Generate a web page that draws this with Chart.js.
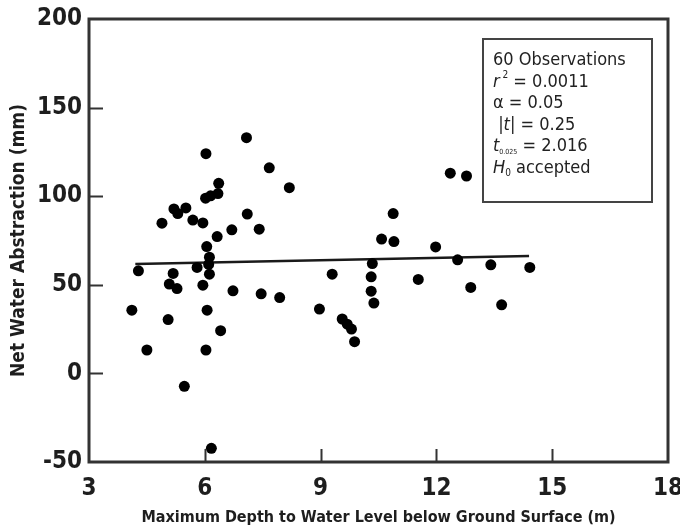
<!DOCTYPE html>
<html>
<head>
<meta charset="utf-8">
<script src="https://cdn.jsdelivr.net/npm/chart.js@4.4.1/dist/chart.umd.min.js"></script>
<style>
  html, body { margin: 0; padding: 0; background: #fff; }
  #wrap { width: 680px; height: 531px; }
</style>
</head>
<body>
<div id="wrap"><canvas id="c" width="680" height="531"></canvas></div>
<script>
// ---- data ----
const xTickValues = [3, 6, 9, 12, 15, 18];
const yTickValues = [-50, 0, 50, 100, 150, 200];
const depth = [
  7.08, 6.03, 7.67, 8.19, 6.36, 6.34, 6.15, 6.02, 5.20, 5.51,
  5.30, 4.89, 5.69, 5.95, 7.10, 6.32, 6.70, 7.41, 6.05, 6.12,
  4.28, 5.18, 5.80, 6.10, 6.12, 5.08, 5.28, 5.95, 6.73, 7.46,
  7.94, 4.11, 6.06, 5.05, 6.41, 4.50, 6.03, 5.47, 6.17, 12.36,
  12.78, 10.88, 10.58, 10.90, 11.98, 12.55, 10.34, 9.30, 10.31, 11.53,
  12.89, 10.31, 10.38, 8.97, 9.56, 9.69, 9.80, 9.88, 13.41, 14.42,
  13.69
];
const abstraction = [
  133.0, 124.0, 116.0, 104.8, 107.3, 101.5, 100.2, 98.9, 92.8, 93.4,
  90.2, 84.8, 86.5, 84.9, 89.9, 77.2, 81.0, 81.4, 71.6, 65.6,
  57.9, 56.4, 59.8, 61.5, 56.0, 50.4, 47.9, 49.8, 46.6, 44.9,
  42.8, 35.7, 35.7, 30.4, 24.1, 13.2, 13.2, -7.3, -42.3, 113.0,
  111.4, 90.2, 75.8, 74.4, 71.4, 64.1, 62.0, 56.0, 54.5, 53.0,
  48.5, 46.4, 39.7, 36.3, 30.7, 27.8, 25.0, 17.9, 61.3, 59.8,
  38.7
];
const fitX = [4.2, 14.4];
const fitY = [61.8, 66.2];
const xTitle = 'Maximum Depth to Water Level below Ground Surface (m)';
const yTitle = 'Net Water Abstraction (mm)';

const NARROW = "'DejaVu Sans Condensed', 'Liberation Sans', Arial, sans-serif";
const INK = '#1e1e1e';

const points = depth.map((d, i) => ({ x: d, y: abstraction[i] }));
const fitLine = fitX.map((d, i) => ({ x: d, y: fitY[i] }));

const framePlugin = {
  id: 'frame',
  afterDatasetsDraw(chart) {
    const { ctx, chartArea: a, scales } = chart;
    ctx.save();
    ctx.strokeStyle = '#333';
    ctx.lineWidth = 3;
    ctx.strokeRect(a.left, a.top, a.right - a.left, a.bottom - a.top);
    ctx.lineWidth = 2;
    ctx.beginPath();
    xTickValues.slice(1, -1).forEach(v => {
      const px = Math.round(scales.x.getPixelForValue(v)) + 0.5;
      ctx.moveTo(px, a.bottom); ctx.lineTo(px, a.bottom - 13);
    });
    yTickValues.slice(1, -1).forEach(v => {
      const py = Math.round(scales.y.getPixelForValue(v)) + 0.5;
      ctx.moveTo(a.left, py); ctx.lineTo(a.left + 14, py);
    });
    ctx.stroke();
    ctx.restore();
  }
};

const statsPlugin = {
  id: 'stats',
  afterDraw(chart) {
    const { ctx, chartArea: a } = chart;
    const bx = a.right - 185, by = a.top + 20, bw = 169, bh = 163;
    ctx.save();
    ctx.strokeStyle = '#444';
    ctx.lineWidth = 2;
    ctx.strokeRect(bx, by, bw, bh);
    ctx.fillStyle = '#222';
    ctx.textBaseline = 'alphabetic';
    const reg = "18px " + NARROW;
    const ita = "italic 18px " + NARROW;
    const small = "10px " + NARROW;
    const lines = [
      [{ t: '60 Observations', f: reg }],
      [{ t: 'r', f: ita }, { t: ' 2', f: small, dy: -9 }, { t: ' = 0.0011', f: reg }],
      [{ t: '\u03B1 = 0.05', f: reg }],
      [{ t: ' |', f: reg }, { t: 't', f: ita }, { t: '| = 0.25', f: reg }],
      [{ t: 't', f: ita }, { t: '0.025', f: "7px " + NARROW, dy: 3 }, { t: ' = 2.016', f: reg }],
      [{ t: 'H', f: ita }, { t: '0', f: small, dy: 3 }, { t: ' accepted', f: reg }]
    ];
    const x0 = bx + 10, y0 = by + 26, step = 21.6;
    lines.forEach((segs, i) => {
      let x = x0;
      const y = y0 + i * step;
      segs.forEach(s => {
        ctx.font = s.f;
        ctx.fillText(s.t, x, y + (s.dy || 0));
        x += ctx.measureText(s.t).width;
      });
    });
    ctx.restore();
  }
};

new Chart(document.getElementById('c'), {
  type: 'scatter',
  data: {
    datasets: [
      {
        label: 'Observations',
        data: points,
        backgroundColor: '#000',
        borderColor: '#000',
        pointRadius: 5.5,
        pointBorderWidth: 0
      },
      {
        label: 'Fit',
        data: fitLine,
        showLine: true,
        borderColor: '#1a1a1a',
        borderWidth: 2.5,
        pointRadius: 0,
        fill: false
      }
    ]
  },
  options: {
    responsive: false,
    animation: false,
    devicePixelRatio: 1,
    layout: { padding: { top: 19, right: 12, left: 8, bottom: 0 } },
    plugins: { legend: { display: false }, tooltip: { enabled: false } },
    scales: {
      x: {
        type: 'linear',
        min: 3, max: 18,
        afterBuildTicks(scale) { scale.ticks = xTickValues.map(v => ({ value: v })); },
        afterFit(scale) { scale.height = 69; scale.paddingLeft = 0; scale.paddingRight = 0; },
        grid: { display: false, drawTicks: false },
        border: { display: false },
        ticks: {
          color: INK, padding: 12,
          font: { family: NARROW, size: 24, weight: 'bold' },
          maxRotation: 0
        },
        title: {
          display: true, text: xTitle, color: INK,
          font: { family: NARROW, size: 16, weight: 'bold' },
          padding: { top: 0, bottom: 4 }
        }
      },
      y: {
        type: 'linear',
        min: -50, max: 200,
        afterBuildTicks(scale) { scale.ticks = yTickValues.map(v => ({ value: v })); },
        afterFit(scale) { scale.width = 81; scale.paddingTop = 0; scale.paddingBottom = 0; },
        grid: { display: false, drawTicks: false },
        border: { display: false },
        ticks: {
          color: INK, padding: 7,
          font: { family: NARROW, size: 24, weight: 'bold' }
        },
        title: {
          display: true, text: yTitle, color: INK,
          font: { family: NARROW, size: 19, weight: 'bold' },
          padding: { top: 0, bottom: 0 }
        }
      }
    }
  },
  plugins: [framePlugin, statsPlugin]
});
</script>
</body>
</html>
